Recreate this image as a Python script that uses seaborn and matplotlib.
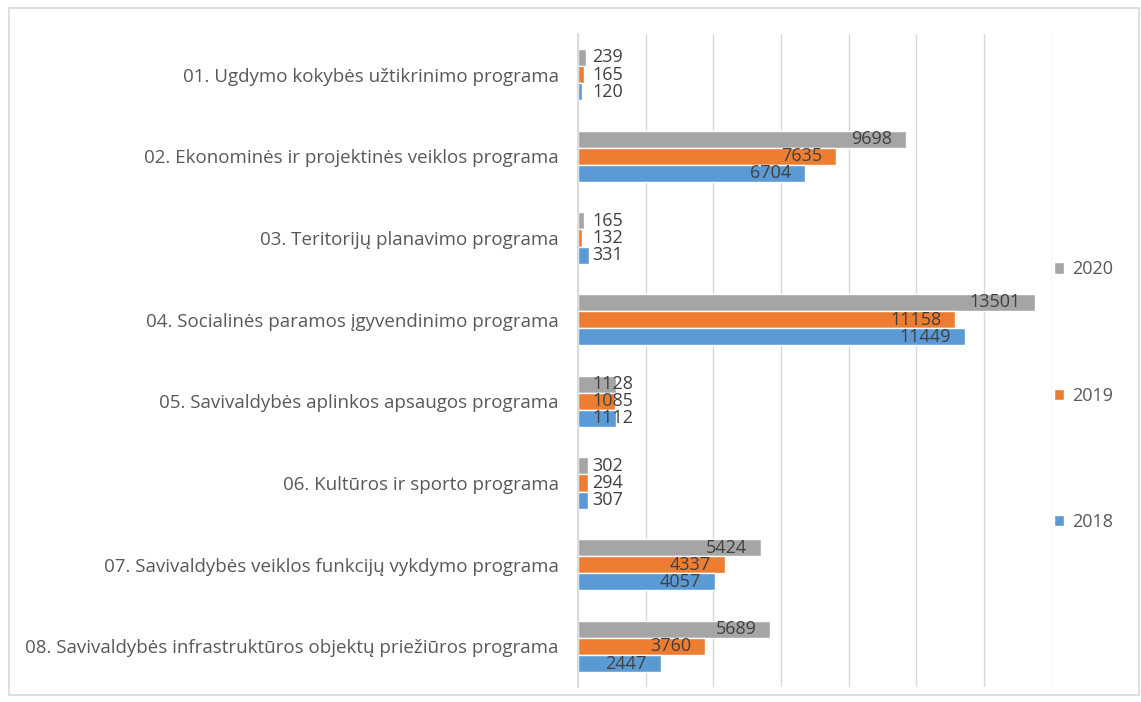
import matplotlib
matplotlib.use("Agg")
import matplotlib.pyplot as plt
import matplotlib.transforms as mtransforms
import seaborn as sns
import pandas as pd
from matplotlib.patches import Rectangle

programs = [
    "01. Ugdymo kokybės užtikrinimo programa",
    "02. Ekonominės ir projektinės veiklos programa",
    "03. Teritorijų planavimo programa",
    "04. Socialinės paramos įgyvendinimo programa",
    "05. Savivaldybės aplinkos apsaugos programa",
    "06. Kultūros ir sporto programa",
    "07. Savivaldybės veiklos funkcijų vykdymo programa",
    "08. Savivaldybės infrastruktūros objektų priežiūros programa",
]
years = ["2020", "2019", "2018"]
values_2018 = [120, 6704, 331, 11449, 1112, 307, 4057, 2447]
values_2019 = [165, 7635, 132, 11158, 1085, 294, 4337, 3760]
values_2020 = [239, 9698, 165, 13501, 1128, 302, 5424, 5689]
colors = {"2020": "#A5A5A5", "2019": "#ED7D31", "2018": "#5B9BD5"}

df = pd.DataFrame({
    "program": programs * 3,
    "year": ["2018"] * 8 + ["2019"] * 8 + ["2020"] * 8,
    "value": values_2018 + values_2019 + values_2020,
})

sns.set_theme(style="white")
plt.rcParams["font.family"] = ["Open Sans", "DejaVu Sans"]

fig = plt.figure(figsize=(11.41, 7.02), dpi=100)
ax = fig.add_axes([0.5066, 0.021, 0.415, 0.931])

sns.barplot(data=df, y="program", x="value", hue="year", hue_order=years,
            order=programs, palette=colors, width=0.63, orient="h",
            saturation=1, ax=ax, legend=True)

ax.set_xlim(0, 14000)
ax.set_xticks(range(0, 14001, 2000))
ax.tick_params(axis="x", length=0, labelbottom=False)
ax.tick_params(axis="y", length=0, labelsize=13.5, labelcolor="#595959", pad=14)
ax.xaxis.grid(True, color="#D9D9D9", linewidth=1)
ax.set_axisbelow(True)
ax.set_xlabel("")
ax.set_ylabel("")
for side in ["top", "right", "bottom"]:
    ax.spines[side].set_visible(False)
ax.spines["left"].set_color("#D9D9D9")

# data labels: inside end (14 px in), pushed right of the axis when the bar is too short
inside = mtransforms.offset_copy(ax.transData, fig=fig, x=-14, y=0, units="dots")
outside = mtransforms.offset_copy(ax.transData, fig=fig, x=14, y=0, units="dots")
fig.canvas.draw()
renderer = fig.canvas.get_renderer()
axis_left = ax.get_window_extent().x0
for container in ax.containers:
    for bar in container:
        v = bar.get_width()
        yc = bar.get_y() + bar.get_height() / 2
        t = ax.text(v, yc, f"{int(round(v))}", ha="right", va="center",
                    fontsize=13, color="#404040", transform=inside)
        if t.get_window_extent(renderer).x0 < axis_left + 14:
            t.set_transform(outside)
            t.set_x(0)
            t.set_ha("left")

handles, labels = ax.get_legend_handles_labels()
ax.legend(handles, labels, loc="center left", bbox_to_anchor=(0.97, 0.446),
          frameon=False, fontsize=13, labelcolor="#595959",
          handlelength=0.6, handleheight=0.6, handletextpad=0.4,
          labelspacing=6.0)

fig.add_artist(Rectangle((0.008, 0.01), 0.99, 0.978, transform=fig.transFigure,
                         fill=False, edgecolor="#D9D9D9", linewidth=1.2))

fig.savefig("out.png", dpi=100)
